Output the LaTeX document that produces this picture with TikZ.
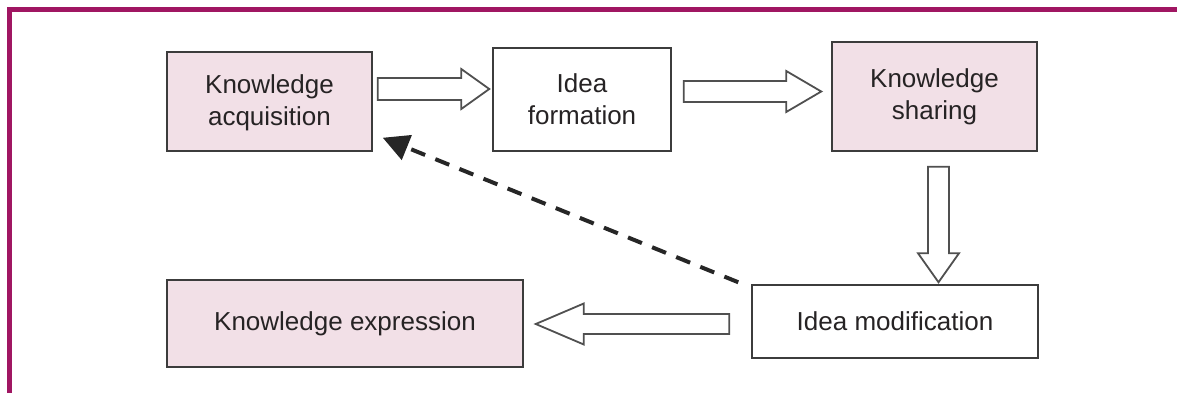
\documentclass[tikz,border=0pt]{standalone}
\usepackage{fontspec}
\setmainfont{Liberation Sans}
\usetikzlibrary{calc,arrows.meta}
\definecolor{frame}{RGB}{160,22,98}
\definecolor{boxpink}{RGB}{242,224,231}
\definecolor{boxline}{RGB}{60,60,60}
\definecolor{txt}{RGB}{38,35,36}
\definecolor{arrline}{RGB}{80,80,80}
\tikzset{
  stagebox/.style={draw=boxline, line width=1.5pt, inner sep=0pt, align=center,
    text=txt, font=\fontsize{26}{32}\selectfont},
  pinkbox/.style={stagebox, fill=boxpink},
  whitebox/.style={stagebox, fill=white},
  blk/.style={draw=arrline, line width=1.8pt, fill=white, line join=miter},
  feedback/.style={line width=4pt, draw=black!85, dash pattern=on 15pt off 11pt,
    -{Triangle[length=26pt,width=26pt]}}
}
% #1 tail, #2 tip, #3 shaft half width, #4 head half width, #5 head length
\newcommand{\bigarrow}[5]{%
  \draw[blk] let \p1=($(#2)-(#1)$), \n1={atan2(\y1,\x1)}, \n2={veclen(\x1,\y1)} in
    [shift={(#1)}, rotate=\n1]
    (0pt,#3pt) -- ({\n2-#5pt},#3pt) -- ({\n2-#5pt},#4pt) -- (\n2,0pt)
    -- ({\n2-#5pt},-#4pt) -- ({\n2-#5pt},-#3pt) -- (0pt,-#3pt) -- cycle;}
\begin{document}
\begin{tikzpicture}[x=1pt,y=-1pt]
\useasboundingbox (0,0) rectangle (1177,393);
% frame
\draw[frame, line width=4.5pt, line join=miter] (9.5,393) -- (9.5,9.5) -- (1177,9.5);
% stages
\node[pinkbox, minimum width=205pt, minimum height=99pt, text depth=2pt] (ka) at (269.5,101.5) {Knowledge\\acquisition};
\node[whitebox, minimum width=178pt, minimum height=103pt] (if) at (582,99.5) {Idea\\formation};
\node[pinkbox, minimum width=205pt, minimum height=109pt] (ks) at (934.5,96.5) {Knowledge\\sharing};
\node[whitebox, minimum width=286pt, minimum height=73pt] (im) at (895,321.5) {Idea modification};
\node[pinkbox, minimum width=356pt, minimum height=87pt] (ke) at (345,323.5) {Knowledge expression};
% block arrow end points
\coordinate (a1t) at ($(ka.east)+(5,-12.5)$);
\coordinate (a1h) at ($(a1t -| if.west)+(-3,0)$);
\coordinate (a2t) at ($(if.east)+(12,-8)$);
\coordinate (a2h) at ($(a2t -| ks.west)+(-10,0)$);
\coordinate (a3t) at ($(ks.south)+(4,15)$);
\coordinate (a3h) at ($(a3t |- im.north)+(0,-2)$);
\coordinate (a4t) at ($(im.west)+(-22,2.5)$);
\coordinate (a4h) at ($(a4t -| ke.east)+(12,0)$);
\bigarrow{a1t}{a1h}{11}{20}{28}
\bigarrow{a2t}{a2h}{10.5}{20.5}{35}
\bigarrow{a3t}{a3h}{10.5}{20.5}{29}
\bigarrow{a4t}{a4h}{10}{20.5}{48}
% feedback
\coordinate (fbs) at ($(im.north west)+(-13,-2)$);
\coordinate (fbe) at ($(ka.south east)+(10,-14)$);
\draw[feedback] (fbs) -- (fbe);
\end{tikzpicture}
\end{document}
